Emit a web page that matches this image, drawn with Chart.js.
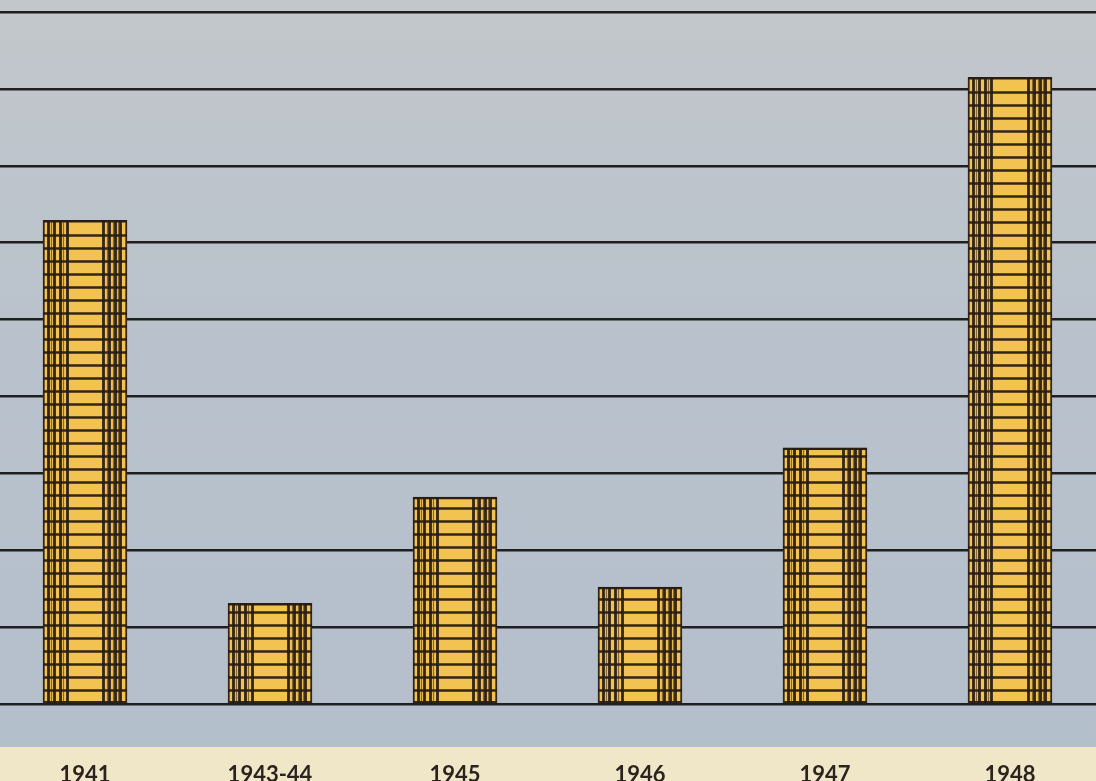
<!DOCTYPE html>
<html>
<head>
<meta charset="utf-8">
<script src="https://cdn.jsdelivr.net/npm/chart.js@4.4.1/dist/chart.umd.min.js"></script>
<style>
    html, body { margin: 0; padding: 0; background: #b7c1cc; }
    #myChart { display: block; }
</style>
</head>
<body>
<canvas id="myChart" width="1096" height="781"></canvas>
<script>
// years on the x axis and height of each coin stack (in grid-line units)
const years = ['1941', '1943-44', '1945', '1946', '1947', '1948'];
const stackHeights = [6.29, 1.31, 2.69, 1.52, 3.33, 8.15];
const gridMax = 9;

// paper background: blue-grey sheet with a cream strip under it
const paperPlugin = {
    id: 'paper',
    beforeDraw(chart) {
        const ctx = chart.ctx;
        const w = chart.width, h = chart.height;
        ctx.save();
        const grad = ctx.createLinearGradient(0, 0, 0, h);
        grad.addColorStop(0, 'rgb(194,199,203)');
        grad.addColorStop(0.45, 'rgb(185,194,204)');
        grad.addColorStop(1, 'rgb(180,191,204)');
        ctx.fillStyle = grad;
        ctx.fillRect(0, 0, w, h);
        ctx.fillStyle = 'rgb(240,230,200)';
        ctx.fillRect(0, 747, w, h - 747);
        ctx.restore();
    }
};

// draw the coin edges over each bar
const coinPlugin = {
    id: 'coins',
    afterDatasetsDraw(chart) {
        const ctx = chart.ctx;
        const meta = chart.getDatasetMeta(0);
        const coinStep = 13;
        const columns = [0.06, 0.13, 0.2, 0.28, 0.72, 0.79, 0.86, 0.92];
        ctx.save();
        meta.data.forEach(bar => {
            const p = bar.getProps(['x', 'y', 'base', 'width'], true);
            const left = p.x - p.width / 2;
            const right = p.x + p.width / 2;
            ctx.strokeStyle = 'rgba(40,28,20,0.95)';
            ctx.lineWidth = 2.3;
            ctx.beginPath();
            for (let yy = p.base - coinStep; yy > p.y + 3; yy -= coinStep) {
                ctx.moveTo(left, Math.round(yy) + 0.5);
                ctx.lineTo(right, Math.round(yy) + 0.5);
            }
            ctx.moveTo(left, p.y + 1);
            ctx.lineTo(right, p.y + 1);
            ctx.stroke();

            ctx.lineWidth = 2.8;
            ctx.beginPath();
            columns.forEach(f => {
                const xx = Math.round(left + f * p.width) + 0.5;
                ctx.moveTo(xx, p.y);
                ctx.lineTo(xx, p.base);
            });
            ctx.stroke();

            ctx.strokeStyle = 'rgba(60,42,28,0.6)';
            ctx.lineWidth = 1.2;
            ctx.beginPath();
            [0.1, 0.24, 0.76, 0.83, 0.89].forEach(f => {
                const xx = Math.round(left + f * p.width) + 0.5;
                ctx.moveTo(xx, p.y);
                ctx.lineTo(xx, p.base);
            });
            ctx.stroke();
        });
        ctx.restore();
    }
};

const ctx = document.getElementById('myChart').getContext('2d');

const chartInstance = new Chart(ctx, {
    type: 'bar',
    data: {
        datasets: [{
            label: 'Coins',
            data: stackHeights.map((v, i) => ({ x: i, y: v })),
            backgroundColor: '#f3c352',
            borderColor: '#34261c',
            borderWidth: 2,
            borderSkipped: false,
            barThickness: 84
        }]
    },
    options: {
        responsive: false,
        animation: false,
        events: [],
        layout: {
            padding: { top: 12, left: 0, right: 0, bottom: 0 }
        },
        plugins: {
            legend: { display: false },
            tooltip: { enabled: false }
        },
        scales: {
            x: {
                type: 'linear',
                offset: false,
                min: -0.4595,
                max: 5.465,
                grid: { display: false, drawTicks: false, offset: false },
                border: { display: false },
                afterBuildTicks: scale => {
                    scale.ticks = years.map((y, i) => ({ value: i }));
                },
                afterFit: scale => {
                    scale.height = 77;
                },
                ticks: {
                    autoSkip: false,
                    maxRotation: 0,
                    padding: 58,
                    color: '#2a231e',
                    font: { family: 'Lato', size: 22, weight: 'bold' },
                    callback: v => years[v]
                }
            },
            y: {
                min: 0,
                max: gridMax,
                ticks: { display: false, stepSize: 1 },
                grid: { color: '#1f1f1f', lineWidth: 2.5, drawTicks: false },
                border: { display: false },
                afterFit: scale => {
                    scale.width = 0;
                }
            }
        }
    },
    plugins: [paperPlugin, coinPlugin]
});
</script>
</body>
</html>
